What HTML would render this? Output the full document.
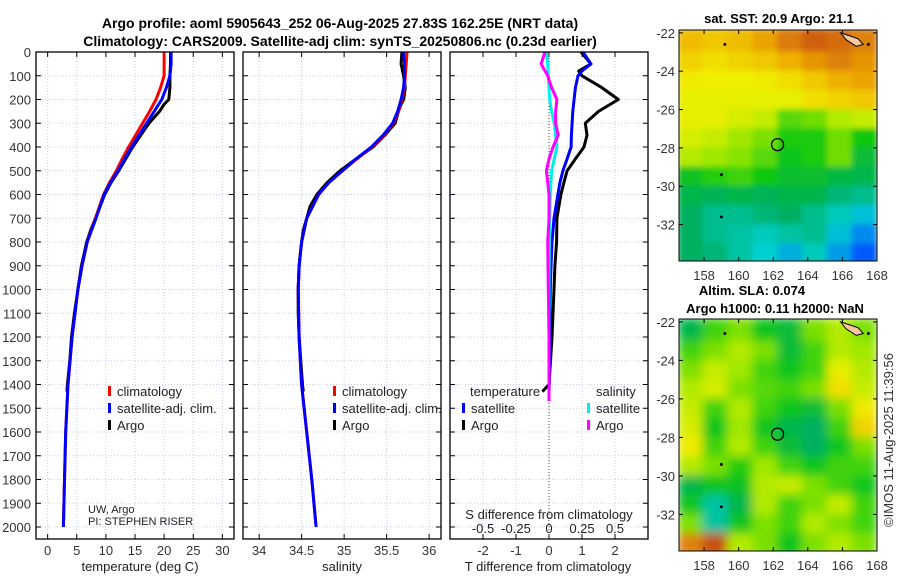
<!DOCTYPE html>
<html><head><meta charset="utf-8"><style>
body{margin:0;background:#fff;}
svg{display:block;font-family:"Liberation Sans","DejaVu Sans",sans-serif;}
</style></head><body>
<svg id="chart" width="900" height="580" viewBox="0 0 900 580">
<defs>
<filter id="smooth" x="0" y="0" width="1" height="1"><feGaussianBlur stdDeviation="5" edgeMode="duplicate"/></filter>
<filter id="smooth2" x="0" y="0" width="1" height="1"><feGaussianBlur stdDeviation="3" edgeMode="duplicate"/></filter>
<clipPath id="clipTop"><rect x="679" y="30" width="198" height="231"/></clipPath>
<clipPath id="clipBot"><rect x="679" y="319" width="198" height="232"/></clipPath>
</defs>
<text x="340" y="28" text-anchor="middle" font-weight="bold" font-size="14">Argo profile: aoml 5905643_252 06-Aug-2025 27.83S 162.25E (NRT data)</text>
<text x="340" y="46" text-anchor="middle" font-weight="bold" font-size="14">Climatology: CARS2009. Satellite-adj clim: synTS_20250806.nc (0.23d earlier)</text>
<g id="g"></g>
</svg>
<script>
// ---------- data ----------
const depthTicks=[0,100,200,300,400,500,600,700,800,900,1000,1100,1200,1300,1400,1500,1600,1700,1800,1900,2000];
const tempTicks=[0,5,10,15,20,25,30];
const salTicks=[34,34.5,35,35.5,36];
const salTickLabels=["34","34.5","35","35.5","36"];
const tdiffTicks=[-2,-1,0,1,2];
const sdiffTicks=[-0.5,-0.25,0,0.25,0.5];
const sdiffTickLabels=["-0.5","-0.25","0","0.25","0.5"];

const argoDepth=[0,50,100,150,200,220,250,300,350,400,450,500,550,600,650,700,750,800,900,1000,1100,1200,1300,1400,1430];
const argoTemp=[21.1,21.1,21.0,21.0,20.8,20.0,19.2,17.4,16.0,14.6,13.4,12.2,10.9,9.8,9.0,8.2,7.4,6.7,5.8,5.2,4.6,4.1,3.8,3.4,3.3];
const argoSal=[35.68,35.67,35.7,35.72,35.7,35.67,35.64,35.6,35.48,35.34,35.14,34.95,34.8,34.68,34.6,34.56,34.52,34.5,34.47,34.46,34.46,34.47,34.49,34.51,34.52];

const climDepth=[0,50,100,150,200,250,300,350,400,450,500,550,600,700,800,900,1000,1200,1400,1600,1800,2000];
const climTemp=[20.0,20.0,20.0,19.4,18.6,17.5,16.3,15.1,13.9,12.8,11.8,10.6,9.6,8.2,6.8,5.9,5.2,4.2,3.5,3.1,2.9,2.7];
const satTemp=[21.2,21.2,21.0,20.4,19.6,18.3,17.0,15.7,14.4,13.2,12.1,10.8,9.7,8.3,6.8,5.9,5.2,4.2,3.5,3.1,2.9,2.7];
const climSal=[35.74,35.73,35.72,35.71,35.68,35.64,35.58,35.47,35.33,35.15,34.98,34.82,34.7,34.56,34.5,34.47,34.46,34.47,34.5,34.56,34.62,34.67];
const satSal=[35.7,35.71,35.71,35.7,35.67,35.63,35.57,35.46,35.32,35.14,34.98,34.82,34.7,34.56,34.5,34.47,34.46,34.47,34.5,34.56,34.62,34.67];

const diffDepth=[0,50,80,100,150,200,250,300,350,400,450,500,550,600,700,800,900,1000,1200,1400,1430];
const argoTdiff=[0.97,1.27,0.9,1.0,1.6,2.1,1.5,1.1,1.15,1.06,0.8,0.55,0.45,0.36,0.24,0.23,0.18,0.15,0.09,0.0,-0.2];
const satTdiff=[1.03,1.27,1.0,0.88,0.8,0.76,0.72,0.7,0.68,0.67,0.55,0.42,0.33,0.27,0.15,0.09,0.06,0.04,0.02,0.01,0.0];
const sdiffDepth=[0,50,100,150,200,250,300,350,400,450,500,600,700,800,1000,1200,1440,1470];
const argoSdiff=[-0.03,-0.06,-0.01,0.02,0.06,0.05,0.05,0.07,0.03,0.0,-0.02,0.0,0.0,-0.01,-0.005,0.0,0.0,0.0];
const satSdiff=[-0.02,-0.01,-0.005,0.0,0.005,0.02,0.04,0.05,0.06,0.04,0.02,0.01,0.005,0.003,0.0,0.0,0.0,0.0];

// maps: rows lat -22 -> -34, cols lon 156.5 -> 168
const sstGrid=[
[.76,.74,.76,.80,.86,.90,.88,.85],
[.72,.70,.72,.74,.78,.82,.85,.82],
[.68,.67,.67,.68,.70,.74,.78,.80],
[.66,.66,.66,.66,.66,.70,.72,.74],
[.66,.66,.64,.62,.52,.54,.60,.62],
[.64,.62,.58,.55,.47,.47,.54,.46],
[.60,.58,.56,.52,.45,.47,.54,.42],
[.44,.48,.50,.46,.43,.43,.41,.40],
[.40,.39,.40,.39,.40,.40,.36,.34],
[.38,.34,.34,.36,.38,.34,.30,.26],
[.38,.34,.32,.30,.32,.34,.26,.20],
[.38,.36,.32,.28,.24,.30,.22,.14]];
const slaGrid=[
[.40,.50,.55,.45,.42,.55,.60,.55],
[.50,.55,.60,.55,.42,.50,.60,.58],
[.55,.62,.58,.50,.45,.50,.66,.60],
[.60,.64,.55,.52,.50,.55,.70,.62],
[.62,.50,.60,.50,.45,.42,.55,.68],
[.64,.45,.58,.45,.40,.38,.50,.72],
[.68,.50,.60,.50,.42,.38,.45,.55],
[.60,.55,.48,.58,.50,.45,.50,.50],
[.40,.45,.44,.60,.62,.55,.50,.45],
[.45,.32,.40,.60,.50,.55,.62,.50],
[.55,.32,.45,.55,.50,.60,.55,.50],
[.85,.92,.60,.55,.45,.55,.60,.55]];
const lonTicks=[158,160,162,164,166,168];
const latTicks=[-22,-24,-26,-28,-30,-32];
const floatLon=162.25, floatLat=-27.83;

// ---------- drawing ----------
const NS="http://www.w3.org/2000/svg";
const root=document.getElementById('g');
function mk(tag,attrs,parent){const e=document.createElementNS(NS,tag);for(const k in attrs)e.setAttribute(k,attrs[k]);(parent||root).appendChild(e);return e;}
const Y0=52,YPER=0.2375;
function yD(d){return Y0+d*YPER;}
const panels=[
 {x0:36,x1:234,vmin:-2,vmax:32},
 {x0:243,x1:441,vmin:33.81,vmax:36.14},
 {x0:450,x1:648,vmin:-3,vmax:3}];
function xS(p,v){return p.x0+(v-p.vmin)/(p.vmax-p.vmin)*(p.x1-p.x0);}
const PB=539;

panels.forEach((p,i)=>{
  const grp=mk('g',{});
  
  
  depthTicks.forEach(d=>{
    const l=mk('line',{x1:p.x0,x2:p.x1,y1:yD(d),y2:yD(d),stroke:'#c8cce8','stroke-dasharray':'1,2','stroke-width':1},grp);
    
    
    mk('line',{x1:p.x0,x2:p.x0+5,y1:yD(d),y2:yD(d),stroke:'#000'},grp);
    mk('line',{x1:p.x1-5,x2:p.x1,y1:yD(d),y2:yD(d),stroke:'#000'},grp);
  });
});
function vgrid(p,vals,labels,name,ly){
  vals.forEach((v,k)=>{
    const x=xS(p,v);
    const l=mk('line',{x1:x,x2:x,y1:Y0,y2:PB,stroke:'#c8cce8','stroke-dasharray':'1,2'});
    
    
    mk('line',{x1:x,x2:x,y1:PB-5,y2:PB,stroke:'#000'});
    mk('line',{x1:x,x2:x,y1:Y0,y2:Y0+5,stroke:'#000'});
    const t=mk('text',{x:x,y:ly,'text-anchor':'middle','font-size':13,fill:'#333'});
    t.textContent=labels?labels[k]:String(v);
    
    
  });
}
vgrid(panels[0],tempTicks,null,'temperature',555);
vgrid(panels[1],salTicks,salTickLabels,'salinity',555);
vgrid(panels[2],tdiffTicks,null,'t-diff',555);
sdiffTicks.forEach((v,k)=>{
  const x=xS(panels[2],v*4);
  const t=mk('text',{x:x,y:533,'text-anchor':'middle','font-size':13,fill:'#222'});
  t.textContent=sdiffTickLabels[k];
  
  
});
depthTicks.forEach(d=>{
  const t=mk('text',{x:31,y:yD(d)+5,'text-anchor':'end','font-size':13,fill:'#333'});
  t.textContent=String(d);
  
  
});
const z=mk('line',{x1:xS(panels[2],0),x2:xS(panels[2],0),y1:Y0,y2:PB,stroke:'#334422','stroke-dasharray':'1,2'});



function series(p,vals,depths,color,w,name,scale){
  const pts=vals.map((v,k)=>xS(p,v*(scale||1)).toFixed(1)+','+yD(depths[k]).toFixed(1)).join(' ');
  const e=mk('polyline',{points:pts,fill:'none',stroke:color,'stroke-width':w,'stroke-linejoin':'round'});
  
  
}
series(panels[0],argoTemp,argoDepth,'#000',3,'argo-temperature-line');
series(panels[0],climTemp,climDepth,'#f00',3,'climatology-temperature-line');
series(panels[0],satTemp,climDepth,'#00f',3,'satellite-temperature-line');
series(panels[1],argoSal,argoDepth,'#000',3,'argo-salinity-line');
series(panels[1],climSal,climDepth,'#f00',3,'climatology-salinity-line');
series(panels[1],satSal,climDepth,'#00f',3,'satellite-salinity-line');
series(panels[2],argoTdiff,diffDepth,'#000',3,'argo-t-diff-line');
series(panels[2],satTdiff,diffDepth,'#00f',3,'satellite-t-diff-line');
series(panels[2],satSdiff,sdiffDepth,'#00eeee',3,'satellite-s-diff-line',4);
series(panels[2],argoSdiff,sdiffDepth,'#ff00ff',3,'argo-s-diff-line',4);

panels.forEach((p,i)=>{
  const r=mk('rect',{x:p.x0,y:Y0,width:p.x1-p.x0,height:PB-Y0,fill:'none',stroke:'#000','stroke-width':1.3});
  
  
});

function txt(x,y,s,size,name,opt){
  const t=mk('text',Object.assign({x:x,y:y,'font-size':size,fill:'#222'},opt||{}));
  t.textContent=s;
  
  
  return t;
}
function legItem(x,y,color,label,name){
  mk('rect',{x:x,y:y-10,width:3,height:10,fill:color});
  txt(x+9,y,label,13,name);
}
[108,333].forEach(lx=>{
  legItem(lx,396,'#f00','climatology','legend-climatology');
  legItem(lx,413,'#00f','satellite-adj. clim.','legend-satellite-adj');
  legItem(lx,430,'#000','Argo','legend-argo');
});
txt(470,396,'temperature',13,'legend-temperature-header');
legItem(462,413,'#00f','satellite','legend-t-satellite');
legItem(462,430,'#000','Argo','legend-t-argo');
txt(596,396,'salinity',13,'legend-salinity-header');
legItem(587,413,'#00eeee','satellite','legend-s-satellite');
legItem(587,430,'#ff00ff','Argo','legend-s-argo');
txt(88,513,'UW, Argo',11,'institution-label');
txt(88,525,'PI: STEPHEN RISER',11,'pi-label');
txt(549,519,'S difference from climatology',13,'s-diff-axis-title',{'text-anchor':'middle'});
txt(140,571,'temperature (deg C)',13,'temperature-axis-title',{'text-anchor':'middle'});
txt(342,571,'salinity',13,'salinity-axis-title',{'text-anchor':'middle'});
txt(548,571,'T difference from climatology',13,'t-diff-axis-title',{'text-anchor':'middle'});

// ---------- maps ----------
const stops=[[0,[0,0,192]],[0.15,[0,96,255]],[0.28,[0,208,208]],[0.38,[0,176,96]],[0.46,[16,200,16]],[0.58,[160,232,0]],[0.67,[240,240,0]],[0.78,[240,176,0]],[0.9,[208,96,16]],[1,[160,16,0]]];
function cmap(v){
  for(let i=1;i<stops.length;i++){if(v<=stops[i][0]){const a=stops[i-1],b=stops[i];const t=(v-a[0])/(b[0]-a[0]);
    const c=a[1].map((q,k)=>Math.round(q+(b[1][k]-q)*t));return 'rgb('+c.join(',')+')';}}
  return 'rgb(160,16,0)';
}
function drawMap(grid,y0,y1,clip,filt,name){
  const X0=679,X1=877,lonMin=156.55,lonMax=168,latMax=-21.85,latMin=-33.9;
  const lx=l=>X0+(l-lonMin)/(lonMax-lonMin)*(X1-X0);
  const ly=l=>y0+(latMax-l)/(latMax-latMin)*(y1-y0);
  const outer=mk('g',{'clip-path':'url(#'+clip+')'});
  
  
  const gg=mk('g',{filter:'url(#'+filt+')'},outer);
  const nr=grid.length,nc=grid[0].length;
  const dLat=(-22-(-34))/nr, dLon=(168-156.5)/nc;
  grid.forEach((row,r)=>row.forEach((v,c)=>{
    const la=-22-r*dLat, lo=156.5+c*dLon;
    const xa=lx(lo),xb=lx(lo+dLon),ya=ly(la+(r===0?0.2:0)),yb=ly(la-dLat-(r===nr-1?0.2:0));
    const cell=mk('rect',{x:xa-0.5,y:ya-0.5,width:xb-xa+1,height:yb-ya+1,fill:cmap(v)},gg);
    
    
  }));
  const land=mk('path',{d:`M${lx(165.9)},${ly(-22)} L${lx(166.9)},${ly(-22.3)} L${lx(167.2)},${ly(-22.6)} L${lx(166.8)},${ly(-22.7)} L${lx(166.2)},${ly(-22.35)} Z`,fill:'#f8c8a0',stroke:'#000','stroke-width':1},outer);
  
  
  [[159.2,-22.6],[167.5,-22.6],[159,-29.4],[159,-31.6]].forEach(([a,b])=>mk('circle',{cx:lx(a),cy:ly(b),r:1.5,fill:'#000'},outer));
  const fl=mk('circle',{cx:lx(floatLon),cy:ly(floatLat),r:6,fill:'none',stroke:'#000','stroke-width':1.3});
  
  
  mk('rect',{x:X0,y:y0,width:X1-X0,height:y1-y0,fill:'none',stroke:'#000','stroke-width':1});
  lonTicks.forEach(l=>{
    mk('line',{x1:lx(l),x2:lx(l),y1:y1,y2:y1-4,stroke:'#000'});
    mk('line',{x1:lx(l),x2:lx(l),y1:y0,y2:y0+4,stroke:'#000'});
    txt(lx(l),y1+19,String(l),13,'longitude-tick-label',{'text-anchor':'middle',fill:'#333'});
  });
  latTicks.forEach(l=>{
    mk('line',{x1:X0,x2:X0+4,y1:ly(l),y2:ly(l),stroke:'#000'});
    mk('line',{x1:X1,x2:X1-4,y1:ly(l),y2:ly(l),stroke:'#000'});
    txt(X0-4,ly(l)+5,String(l),13,'latitude-tick-label',{'text-anchor':'end',fill:'#333'});
  });
}
drawMap(sstGrid,30,261,'clipTop','smooth2','sst-map');
drawMap(slaGrid,319,551,'clipBot','smooth','sla-map');
txt(779,23,'sat. SST: 20.9 Argo: 21.1',13,'sst-map-title',{'text-anchor':'middle','font-weight':'bold',fill:'#000'});
txt(752,295,'Altim. SLA: 0.074',13,'sla-map-title',{'text-anchor':'middle','font-weight':'bold',fill:'#000'});
txt(775,313,'Argo h1000: 0.11 h2000: NaN',13,'argo-height-title',{'text-anchor':'middle','font-weight':'bold',fill:'#000'});
txt(0,0,'©IMOS 11-Aug-2025 11:39:56',13,'imos-timestamp',{'text-anchor':'middle',fill:'#333',transform:'translate(893,440) rotate(-90)'});
</script>
</body></html>
